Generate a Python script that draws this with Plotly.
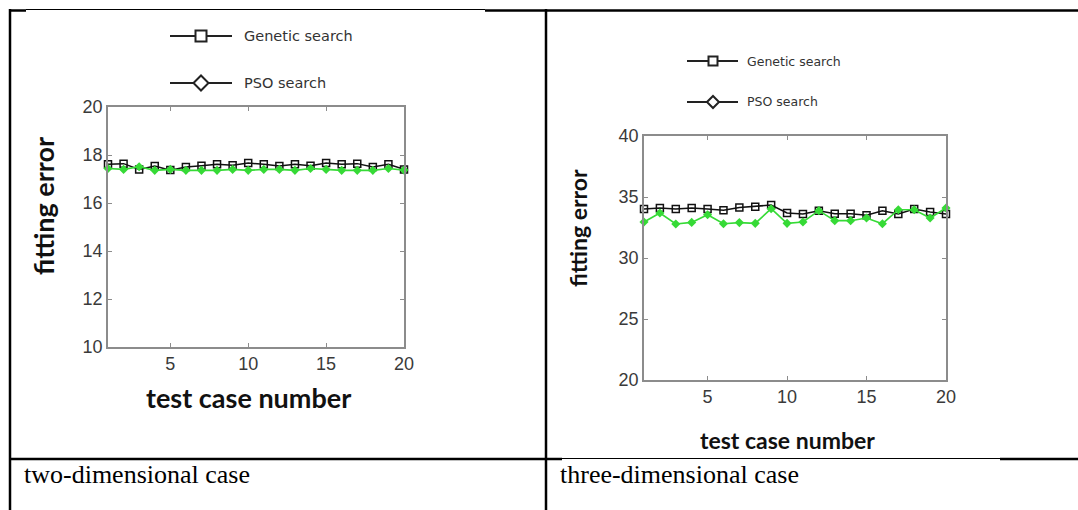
import plotly.graph_objects as go

# ---------------- data ----------------
cases = list(range(1, 21))

genetic_2d = [17.61, 17.64, 17.40, 17.54, 17.37, 17.50, 17.55, 17.61, 17.57, 17.67,
              17.61, 17.54, 17.61, 17.55, 17.67, 17.61, 17.64, 17.50, 17.61, 17.40]
pso_2d = [17.44, 17.40, 17.51, 17.36, 17.40, 17.36, 17.36, 17.36, 17.40, 17.36,
          17.40, 17.40, 17.36, 17.44, 17.40, 17.36, 17.36, 17.36, 17.44, 17.37]

genetic_3d = [34.02, 34.10, 34.02, 34.10, 34.02, 33.91, 34.13, 34.21, 34.34, 33.69,
              33.61, 33.88, 33.63, 33.63, 33.50, 33.88, 33.61, 34.02, 33.77, 33.61]
pso_3d = [32.95, 33.69, 32.79, 32.92, 33.55, 32.81, 32.90, 32.84, 34.04, 32.84,
          32.95, 33.88, 33.06, 33.06, 33.28, 32.81, 33.96, 33.96, 33.28, 34.10]

series_names = ["Genetic search", "PSO search"]
x_ticks = [5, 10, 15, 20]
y_ticks_2d = [10, 12, 14, 16, 18, 20]
y_ticks_3d = [20, 25, 30, 35, 40]
captions = ["two-dimensional case", "three-dimensional case"]
x_title = "test case number"
y_title = "fitting error"

# ---------------- layout helpers ----------------
W, H = 1078, 510
def px(x):
    return x / W
def py(y):
    return 1 - y / H

GREEN = "#36da36"
AXC = "#8c8c8c"
TICKC = "#3a3a3a"

fig = go.Figure()

def add_series(xa, ya, g, p):
    fig.add_trace(go.Scatter(
        x=cases, y=g, xaxis=xa, yaxis=ya, mode="lines+markers", name=series_names[0],
        line=dict(color="#111111", width=1.5),
        marker=dict(symbol="square-open", size=7, color="#111111", line=dict(width=1.5)),
        cliponaxis=False, showlegend=False))
    fig.add_trace(go.Scatter(
        x=cases, y=p, xaxis=xa, yaxis=ya, mode="lines+markers", name=series_names[1],
        line=dict(color=GREEN, width=1.6),
        marker=dict(symbol="diamond", size=7, color=GREEN),
        cliponaxis=False, showlegend=False))

add_series("x", "y", genetic_2d, pso_2d)
add_series("x2", "y2", genetic_3d, pso_3d)

def xaxis(dom, anchor, size):
    return dict(domain=dom, anchor=anchor, range=[1, 20], tickvals=x_ticks,
                automargin=False,
                showline=True, linecolor=AXC, linewidth=1.5, mirror="ticks",
                ticks="inside", ticklen=4, tickcolor=AXC, showgrid=False, zeroline=False,
                tickfont=dict(family="Liberation Sans", size=size, color=TICKC))

def yaxis(dom, anchor, rng, tv, size):
    return dict(domain=dom, anchor=anchor, range=rng, tickvals=tv,
                automargin=False,
                showline=True, linecolor=AXC, linewidth=1.5, mirror="ticks",
                ticks="inside", ticklen=4, tickcolor=AXC, showgrid=False, zeroline=False,
                ticklabelstandoff=0,
                tickfont=dict(family="Liberation Sans", size=size, color=TICKC))

fig.update_layout(
    width=W, height=H, margin=dict(l=0, r=0, t=0, b=0, pad=0, autoexpand=False),
    paper_bgcolor="white", plot_bgcolor="white", showlegend=False,
    xaxis=xaxis([px(108), px(404)], "y", 18),
    yaxis=yaxis([py(347), py(107)], "x", [10, 20], y_ticks_2d, 18),
    xaxis2=xaxis([px(644), px(946)], "y2", 18),
    yaxis2=yaxis([py(380), py(136)], "x2", [20, 40], y_ticks_3d, 18),
)

shapes = []
annotations = []

# ---- table borders ----
def hline(x0, x1, y, w):
    shapes.append(dict(type="line", xref="paper", yref="paper", x0=px(x0), x1=px(x1),
                       y0=py(y), y1=py(y), line=dict(color="black", width=w)))
def vline(x, y0, y1, w):
    shapes.append(dict(type="line", xref="paper", yref="paper", x0=px(x), x1=px(x),
                       y0=py(y0), y1=py(y1), line=dict(color="black", width=w)))

hline(9, 26, 10.5, 2.5)
hline(26, 485, 9.5, 1.2)
hline(485, 1078, 10.5, 2.5)
vline(10, 9, 510, 2.5)
vline(546, 9, 510, 2.5)
hline(9, 562, 459, 2.5)
hline(562, 1000, 458.5, 1.2)
hline(1000, 1078, 459, 2.5)

# ---- legends (drawn glyphs) ----
def legend(xl0, xl1, xm, xt, rows, sq, dm, fsize):
    for i, yy in enumerate(rows):
        shapes.append(dict(type="line", xref="paper", yref="paper", x0=px(xl0), x1=px(xl1),
                           y0=py(yy), y1=py(yy), line=dict(color="#222222", width=2)))
        if i == 0:
            h = sq / 2
            shapes.append(dict(type="rect", xref="paper", yref="paper",
                               x0=px(xm - h), x1=px(xm + h), y0=py(yy + h), y1=py(yy - h),
                               fillcolor="white", line=dict(color="#222222", width=2)))
        else:
            h = dm / 2
            path = (f"M {px(xm - h)} {py(yy)} L {px(xm)} {py(yy - h)} "
                    f"L {px(xm + h)} {py(yy)} L {px(xm)} {py(yy + h)} Z")
            shapes.append(dict(type="path", xref="paper", yref="paper", path=path,
                               fillcolor="white", line=dict(color="#222222", width=2)))
        annotations.append(dict(x=px(xt), y=py(yy), xref="paper", yref="paper",
                                text=series_names[i], showarrow=False, xanchor="left",
                                yanchor="middle",
                                font=dict(family="DejaVu Sans", size=fsize, color="#333333")))

legend(170, 232, 201, 242, [36, 83], 11, 15, 14.5)
legend(687, 738, 713, 745, [61, 102], 9, 12, 12.5)

# ---- axis titles ----
def text(x, y, s, size, angle=0, family="Lato", bold=True, color="#111111", anchor="center"):
    annotations.append(dict(x=px(x), y=py(y), xref="paper", yref="paper",
                            text=f"<b>{s}</b>" if bold else s, showarrow=False,
                            textangle=angle, xanchor=anchor, yanchor="middle",
                            font=dict(family=family, size=size, color=color)))

text(43, 206, y_title, 27, angle=-90)
text(248, 397, x_title, 27)
text(578, 228, y_title, 23, angle=-90)
text(787, 440, x_title, 23)

# ---- captions ----
text(22, 474, captions[0], 26, family="Liberation Serif", bold=False, color="black", anchor="left")
text(558, 474, captions[1], 26, family="Liberation Serif", bold=False, color="black", anchor="left")

fig.update_layout(shapes=shapes, annotations=annotations)
fig.write_html("out.html")
